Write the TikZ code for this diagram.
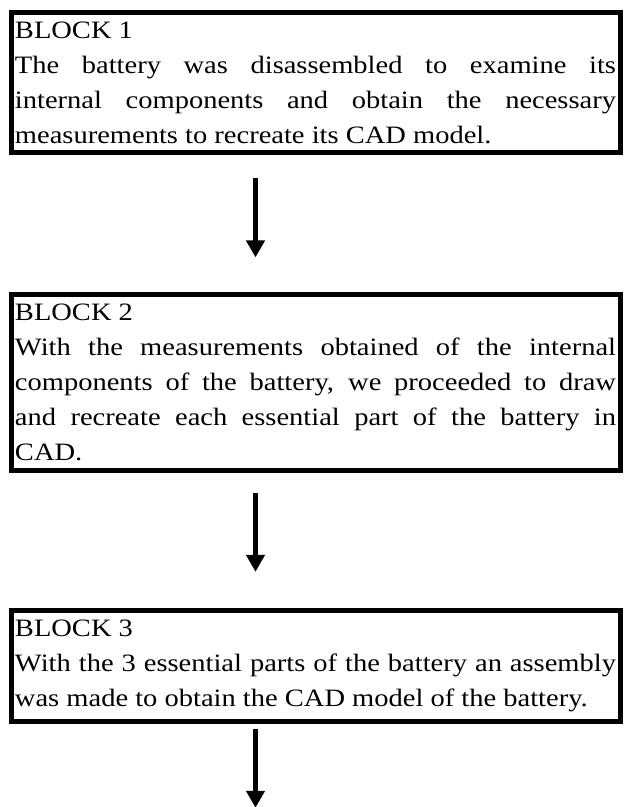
\documentclass[tikz,border=0pt]{standalone}
\usepackage{fontspec}
\setmainfont{Liberation Serif}[FakeStretch=1.14]
\usetikzlibrary{arrows.meta,positioning}

\begin{document}
\begin{tikzpicture}[
    x=1pt, y=1pt,
    blockbox/.style={rectangle, draw=black, line width=5pt, text width=601pt,
        inner xsep=4pt, inner ysep=9.5pt, align=justify,
        font=\fontsize{25pt}{35pt}\selectfont},
    arrow/.style={-{Triangle[width=18pt,length=17pt]}, line width=5.5pt}
]
\useasboundingbox (0,0) rectangle (631,-807);

\node[blockbox, anchor=north west] (b1) at (8.5,-9.5) {BLOCK 1\\
The battery was disassembled to examine its\linebreak
internal components and obtain the necessary\linebreak
measurements to recreate its CAD model.};
\node[blockbox, below=136.5pt of b1] (b2) {BLOCK 2\\
With the measurements obtained of the internal\linebreak
components of the battery, we proceeded to draw\linebreak
and recreate each essential part of the battery in\linebreak
CAD.};
\node[blockbox, below=135pt of b2] (b3) {BLOCK 3\\
With the 3 essential parts of the battery an assembly\linebreak
was made to obtain the CAD model of the battery.};
\coordinate[below=84pt of b3] (end);

\draw[arrow, shorten <=23pt, shorten >=34.5pt] ([xshift=-60pt]b1.south) -- ([xshift=-60pt]b2.north);
\draw[arrow, shorten <=20pt, shorten >=36pt] ([xshift=-60pt]b2.south) -- ([xshift=-60pt]b3.north);
\draw[arrow, shorten <=5pt] ([xshift=-60pt]b3.south) -- ([xshift=-60pt]end);
\end{tikzpicture}
\end{document}
